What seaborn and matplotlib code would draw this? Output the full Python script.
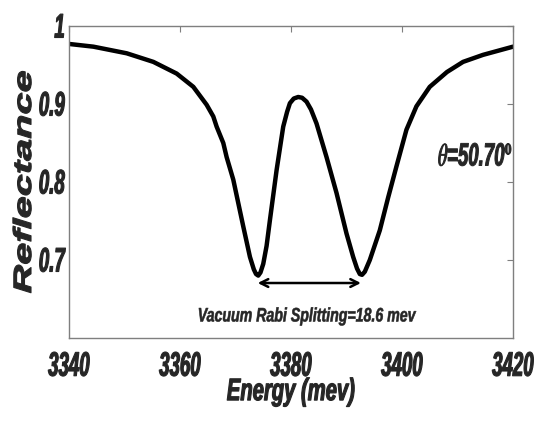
import matplotlib
matplotlib.use("Agg")
import matplotlib.pyplot as plt
import pandas as pd
import seaborn as sns
from matplotlib.patheffects import AbstractPathEffect
from matplotlib.transforms import Affine2D, Bbox

# Reflectance spectrum (energy in meV)
energy = [3340.0, 3344.4, 3350.4, 3355.2, 3359.4, 3362.4, 3364.8, 3366.0,
          3366.6, 3367.8, 3368.4, 3369.6, 3371.4, 3372.6, 3373.3, 3373.7,
          3374.1, 3374.5, 3375.0, 3375.6, 3376.2, 3377.4, 3378.6, 3379.3,
          3379.8, 3380.5, 3381.3, 3382.0, 3382.8, 3383.6, 3384.6, 3386.4,
          3388.2, 3390.0, 3391.2, 3391.9, 3392.4, 3392.8, 3393.3, 3394.2,
          3396.0, 3397.5, 3399.0, 3400.8, 3402.6, 3405.0, 3408.1, 3411.0,
          3414.6, 3420.0]
reflectance = [0.977, 0.9735, 0.965, 0.954, 0.939, 0.922, 0.899, 0.884,
               0.871, 0.850, 0.832, 0.803, 0.743, 0.704, 0.688, 0.682,
               0.680, 0.684, 0.695, 0.718, 0.751, 0.815, 0.871, 0.890,
               0.901, 0.907, 0.909, 0.908, 0.903, 0.893, 0.875, 0.832,
               0.786, 0.734, 0.704, 0.689, 0.682, 0.681, 0.685, 0.700,
               0.738, 0.780, 0.820, 0.867, 0.897, 0.922, 0.941, 0.954,
               0.963, 0.9735]

x_ticks = [3340, 3360, 3380, 3400, 3420]
x_tick_labels = ["3340", "3360", "3380", "3400", "3420"]
y_ticks = [0.7, 0.8, 0.9, 1.0]
y_tick_labels = ["0.7", "0.8", "0.9", "1"]

split_start = 3374.0
split_width = 18.6
split_label = "Vacuum Rabi Splitting=18.6 mev"
angle_label = r"$\theta$=50.70$^{\mathbf{o}}$"


def _anchor(lo, hi, where):
    if where in ("right", "top"):
        return hi
    if where in ("left", "bottom"):
        return lo
    return 0.5 * (lo + hi)


class Stretch(AbstractPathEffect):
    """Draw text glyphs scaled about an anchor (tall, condensed lettering)."""

    def __init__(self, sx=1.0, sy=1.0, xanchor="center", yanchor="center",
                 stroke=0.0):
        super().__init__()
        self.sx, self.sy = sx, sy
        self.xanchor, self.yanchor = xanchor, yanchor
        self.stroke = stroke

    def draw_path(self, renderer, gc, tpath, affine, rgbFace=None):
        bb = tpath.get_extents(affine)
        cx = _anchor(bb.x0, bb.x1, self.xanchor)
        cy = _anchor(bb.y0, bb.y1, self.yanchor)
        scale = (Affine2D().translate(-cx, -cy).scale(self.sx, self.sy)
                 .translate(cx, cy))
        tr = affine + scale
        if self.stroke > 0 and rgbFace is not None:
            gc0 = renderer.new_gc()
            gc0.copy_properties(gc)
            gc0.set_linewidth(self.stroke)
            gc0.set_foreground(rgbFace)
            gc0.set_joinstyle("round")
            renderer.draw_path(gc0, tpath, tr, rgbFace)
            gc0.restore()
        else:
            renderer.draw_path(gc, tpath, tr, rgbFace)


def stretch(text, sx=1.0, sy=1.0, xanchor="center", yanchor="center",
            stroke=0.0):
    """Apply scaled lettering and report the matching extent."""
    text.set_path_effects([Stretch(sx, sy, xanchor, yanchor, stroke)])
    base_extent = text.get_window_extent

    def extent(renderer=None, dpi=None):
        bb = base_extent(renderer=renderer, dpi=dpi)
        cx = _anchor(bb.x0, bb.x1, xanchor)
        cy = _anchor(bb.y0, bb.y1, yanchor)
        return Bbox.from_extents(cx + (bb.x0 - cx) * sx, cy + (bb.y0 - cy) * sy,
                                 cx + (bb.x1 - cx) * sx, cy + (bb.y1 - cy) * sy)

    text.get_window_extent = extent
    return text


sns.set_style("white")
plt.rcParams["font.family"] = ["Liberation Sans", "DejaVu Sans"]
plt.rcParams["mathtext.fontset"] = "stix"

W, H = 541, 422
fig = plt.figure(figsize=(W / 100, H / 100), dpi=100)
ax = fig.add_axes([69 / W, 1 - 338 / H, (513 - 69) / W, (338 - 26) / H])

df = pd.DataFrame({"Energy": energy, "Reflectance": reflectance})
sns.lineplot(data=df, x="Energy", y="Reflectance", ax=ax, color="black",
             linewidth=3.2, sort=False, solid_joinstyle="round",
             solid_capstyle="round")

ax.set_xlim(3340, 3420)
ax.set_ylim(0.6, 1.0)
ax.set_xlabel("")
ax.set_ylabel("")

frame_gray = "#7f7f7f"
for sp in ax.spines.values():
    sp.set_visible(True)
    sp.set_color(frame_gray)
    sp.set_linewidth(1.0)

tick_font = dict(fontsize=14, fontweight="bold", fontstyle="italic")
ax.set_xticks(x_ticks)
ax.set_xticklabels(x_tick_labels, **tick_font)
ax.set_yticks(y_ticks)
ax.set_yticklabels(y_tick_labels, **tick_font)
ax.tick_params(axis="both", which="major", direction="in", length=4,
               width=0.8, color=frame_gray, top=True, right=True)
ax.tick_params(axis="x", pad=10.5)
ax.tick_params(axis="y", pad=3)

for lbl in ax.get_xticklabels():
    stretch(lbl, 0.96, 1.75, yanchor="top", stroke=0.8)
for lbl in ax.get_yticklabels():
    stretch(lbl, 0.96, 1.75, xanchor="right", stroke=0.8)

# Axis titles
stretch(fig.text(24 / W, 1 - 182 / H, "Reflectance", rotation=90,
                 ha="center", va="center", fontsize=18, fontweight="bold",
                 fontstyle="italic"), 1.0, 1.59, stroke=0.8)
stretch(fig.text(291 / W, 1 - 392 / H, "Energy (mev)", ha="center",
                 va="center", fontsize=15, fontweight="bold",
                 fontstyle="italic"), 0.97, 1.49, stroke=0.8)

# Splitting arrow between the two reflectance minima
ax.annotate("", xy=(split_start, 0.6705),
            xytext=(split_start + split_width, 0.6705),
            arrowprops=dict(arrowstyle="<->", color="black", lw=1.8,
                            mutation_scale=14, shrinkA=0, shrinkB=0))
stretch(ax.text(3382.7, 0.628, split_label, ha="center", va="center",
                fontsize=10.4, fontweight="bold", fontstyle="italic"),
        0.98, 1.35, stroke=0.4)

stretch(ax.text(3420, 0.8333, angle_label, ha="right", va="center",
                fontsize=13.7, fontweight="bold", fontstyle="italic"),
        0.98, 1.69, xanchor="right", stroke=0.7)

fig.savefig("out.png", dpi=100)
